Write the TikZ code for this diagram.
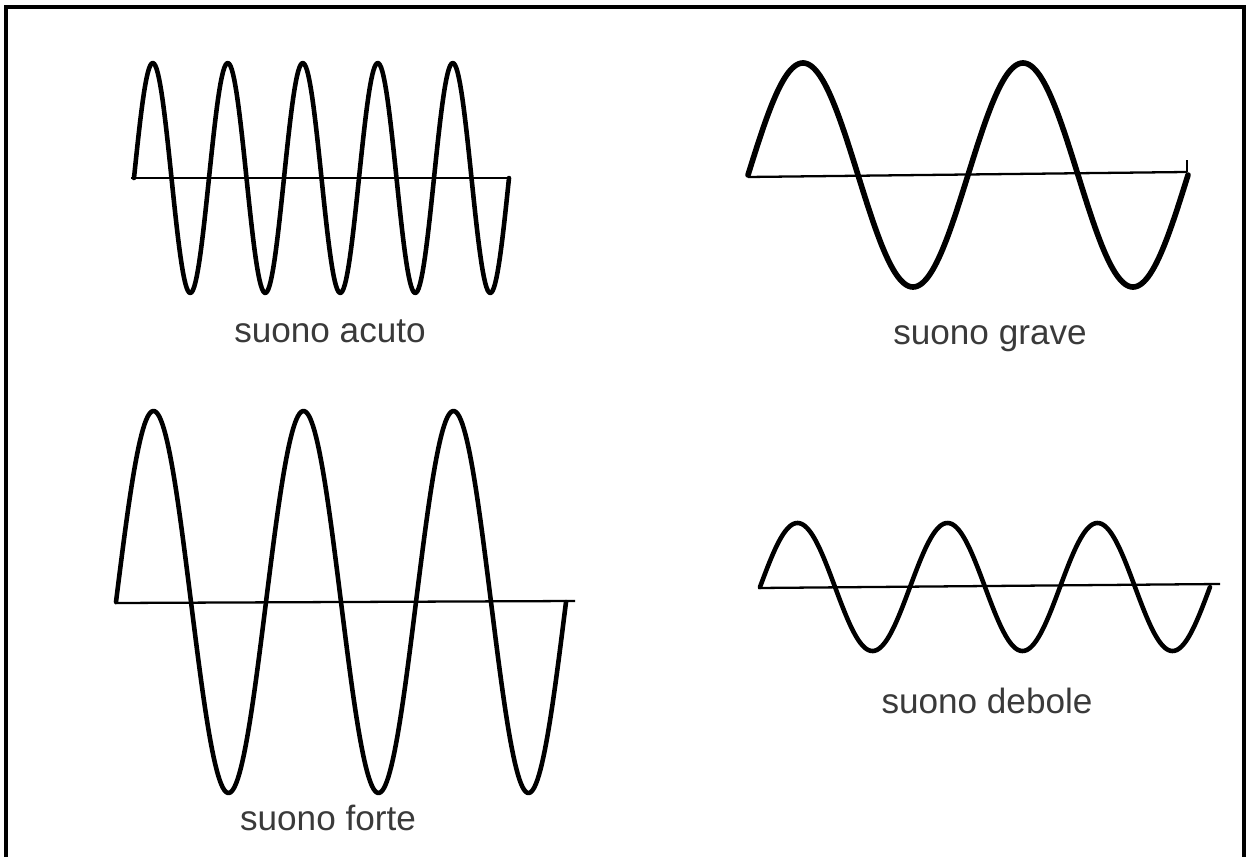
\documentclass[tikz,border=0pt]{standalone}
\usepackage{fontspec}
\setmainfont{Liberation Sans}
\usepackage{tikz}
\usetikzlibrary{positioning}
\definecolor{LabelGray}{RGB}{58, 58, 58}

\begin{document}
\begin{tikzpicture}[x=0.02cm, y=-0.02cm,
    wave/.style={line width=2.6pt, line join=round, line cap=round},
    axis/.style={line width=1.3pt},
    label/.style={anchor=base, text=LabelGray, font=\fontsize{20}{24}\selectfont}]
    \useasboundingbox (0,0) rectangle (1246,857);

    % open frame
    \draw[line width=1.8pt] (6,857) -- (6,7) -- (1244,7) -- (1244,857);

    % Suono acuto
    \begin{scope}
      \draw[axis] (131,178) -- (511,178);
      \draw[wave] plot[domain=0:375, samples=300] ({134+\x},{178-115*sin(4.8*\x)});
      \node[label] (acuto) at (330,343) {suono acuto};
    \end{scope}

    % Suono grave
    \begin{scope}
      \draw[axis] (748,177) -- (1187,172);
      \draw[wave, line width=3.2pt] plot[domain=0:440, samples=300] ({748+\x},{175-112*sin(1.63636*\x)});
      \draw[axis] (1187,172) -- (1187,160);
      \node[label] (grave) at (990,345) {suono grave};
    \end{scope}

    % Suono forte
    \begin{scope}
      \draw[axis] (115,603) -- (575,601);
      \draw[wave] plot[domain=0:450, samples=300] ({116+\x},{602-191*sin(2.4*\x)});
      \node[label] (forte) at (328,830) {suono forte};
    \end{scope}

    % Suono debole
    \begin{scope}
      \draw[axis] (758,588) -- (1220,584);
      \draw[wave] plot[domain=0:450, samples=300] ({760+\x},{587-64*sin(2.4*\x)});
      \node[label] (debole) at (987,713) {suono debole};
    \end{scope}
  \end{tikzpicture}
\end{document}
